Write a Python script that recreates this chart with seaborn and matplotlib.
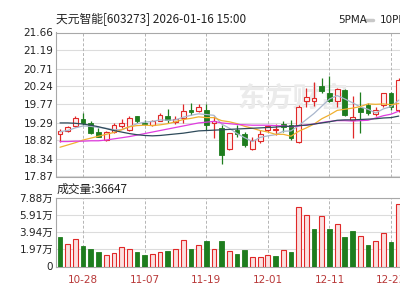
import numpy as np
import pandas as pd
import matplotlib
matplotlib.use("Agg")
import matplotlib.pyplot as plt
import seaborn as sns

# ---------------- data ----------------
title_text = "天元智能[603273] 2026-01-16 15:00"
vol_text = "成交量:36647"
date_labels = ["10-28", "11-07", "11-19", "12-01", "12-11", "12-23"]
date_idx = [3, 11, 19, 27, 35, 43]

price_ticks = [17.87, 18.34, 18.82, 19.29, 19.77, 20.24, 20.71, 21.19, 21.66]
vol_ticks = [0, 19700, 39400, 59100, 78800]
vol_tick_labels = ["0", "1.97万", "3.94万", "5.91万", "7.88万"]

opens = [18.99, 19.07, 19.19, 19.38, 19.29, 19.03, 18.83, 19.03, 19.20, 19.10,
         19.45, 19.29, 19.23, 19.34, 19.45, 19.30, 19.41, 19.63, 19.60, 19.63,
         19.28, 19.14, 18.59, 19.10, 18.99, 18.59, 18.81, 19.10, 19.10, 19.26,
         19.23, 18.79, 19.87, 19.85, 20.24, 20.07, 19.85, 20.155, 19.37, 19.67,
         19.76, 19.52, 19.76, 20.07, 19.63]
highs = [19.11, 19.21, 19.45, 19.54, 19.32, 19.14, 19.07, 19.28, 19.38, 19.45,
         19.47, 19.36, 19.36, 19.54, 19.645, 19.45, 19.785, 19.80, 19.785, 19.785,
         19.45, 19.23, 19.02, 19.23, 19.05, 18.92, 19.10, 19.23, 19.26, 19.32,
         19.36, 19.76, 20.20, 20.35, 20.46, 20.51, 20.20, 20.18, 19.98, 20.10,
         19.80, 19.71, 20.08, 20.10, 20.47]
lows = [18.79, 19.05, 19.17, 19.23, 18.99, 18.90, 18.81, 19.01, 19.14, 19.07,
        19.28, 19.23, 19.20, 19.32, 19.29, 19.26, 19.28, 19.49, 19.58, 19.10,
        18.88, 18.20, 18.57, 18.92, 18.64, 18.57, 18.75, 19.05, 18.97, 19.05,
        18.83, 18.75, 19.71, 19.73, 20.07, 19.82, 19.71, 19.45, 18.88, 19.01,
        19.49, 19.45, 19.71, 19.63, 19.57]
closes = [19.08, 19.16, 19.41, 19.29, 19.01, 18.92, 19.05, 19.22, 19.28, 19.41,
          19.34, 19.26, 19.32, 19.48, 19.36, 19.38, 19.60, 19.56, 19.71, 19.23,
          19.32, 18.44, 19.01, 18.99, 18.70, 18.83, 18.99, 19.20, 19.12, 19.16,
          18.88, 19.71, 19.96, 19.935, 20.11, 19.85, 20.16, 19.49, 19.43, 19.58,
          19.55, 19.63, 20.07, 19.71, 20.42]
prev_close0 = 19.15
volumes = [34500, 25700, 31900, 24100, 20300, 17200, 13300, 15600, 22200, 20300,
           17200, 13300, 14800, 17200, 18300, 20300, 30700, 20300, 24900, 29900,
           20300, 29900, 18000, 14500, 19100, 11000, 11000, 13300, 12200, 19100,
           17200, 68600, 59700, 42700, 57700, 43500, 48900, 34200, 41100, 35300,
           24900, 29600, 38500, 28700, 72400]

ma5 = [19.05, 19.08, 19.15, 19.20, 19.19, 19.16, 19.14, 19.10, 19.10, 19.18,
       19.26, 19.30, 19.32, 19.36, 19.35, 19.36, 19.43, 19.48, 19.52, 19.50,
       19.48, 19.25, 19.14, 19.00, 18.89, 18.79, 18.90, 18.94, 18.97, 19.06,
       19.07, 19.21, 19.37, 19.53, 19.72, 19.91, 20.00, 19.91, 19.81, 19.70,
       19.64, 19.54, 19.65, 19.71, 19.88]
ma10 = [18.64, 18.70, 18.76, 18.83, 18.88, 18.93, 18.98, 19.03, 19.10, 19.18,
        19.21, 19.22, 19.21, 19.23, 19.26, 19.31, 19.37, 19.40, 19.44, 19.42,
        19.42, 19.34, 19.31, 19.26, 19.19, 19.14, 19.08, 19.04, 18.98, 18.98,
        18.93, 19.06, 19.15, 19.25, 19.39, 19.49, 19.61, 19.64, 19.67, 19.71,
        19.78, 19.77, 19.78, 19.76, 19.79]
ma20 = [18.79, 18.79, 18.80, 18.80, 18.81, 18.81, 18.83, 18.86, 18.89, 18.92,
        18.96, 19.00, 19.04, 19.08, 19.12, 19.16, 19.20, 19.24, 19.28, 19.30,
        19.32, 19.28, 19.26, 19.24, 19.23, 19.22, 19.22, 19.22, 19.21, 19.20,
        19.18, 19.20, 19.23, 19.25, 19.29, 19.32, 19.34, 19.34, 19.33, 19.34,
        19.35, 19.41, 19.47, 19.51, 19.59]
ma30 = [19.28, 19.28, 19.27, 19.25, 19.22, 19.18, 19.13, 19.08, 19.04, 19.00,
        18.97, 18.95, 18.94, 18.95, 18.97, 18.99, 19.01, 19.04, 19.07, 19.08,
        19.09, 19.10, 19.11, 19.12, 19.13, 19.14, 19.15, 19.16, 19.17, 19.19,
        19.19, 19.21, 19.22, 19.25, 19.28, 19.31, 19.35, 19.36, 19.36, 19.37,
        19.38, 19.39, 19.41, 19.42, 19.46]

# ---------------- style ----------------
sns.set_theme(style="white")
plt.rcParams['font.family'] = ['DejaVu Sans', 'Noto Sans CJK SC']
CJK = ['Noto Sans CJK SC', 'DejaVu Sans']

RED = '#e02828'
RED_FILL = '#fff0f0'
RED_VFILL = '#fbe0e0'
GREEN = '#1e7d1e'
GRID = '#dcdcdc'
VGRID = '#b4b4b4'
FRAME = '#a8a8a8'

df = pd.DataFrame({"i": np.arange(len(closes)), "open": opens, "high": highs,
                   "low": lows, "close": closes, "vol": volumes,
                   "ma5": ma5, "ma10": ma10, "ma20": ma20, "ma30": ma30})
df["prev"] = df["close"].shift(1).fillna(prev_close0)

W, H = 400, 300
fig = plt.figure(figsize=(4, 3), dpi=100)
fig.patch.set_facecolor('white')
left = 56 / W
ax = fig.add_axes([left, 1 - 176.5 / H, 1 - left, (176.5 - 32.5) / H])
axv = fig.add_axes([left, 1 - 266.5 / H, 1 - left, (266.5 - 198) / H])

xlim = (-0.52, 44.16)
for a in (ax, axv):
    a.set_xlim(*xlim)
    a.set_facecolor('white')
    for s in ('left', 'top', 'bottom'):
        a.spines[s].set_color(FRAME)
        a.spines[s].set_linewidth(0.8)
    a.spines['right'].set_visible(False)
    a.tick_params(axis='both', length=0, pad=2, labelsize=7.5, colors='#222222')
    a.set_xlabel('')
    a.set_ylabel('')

# ---------------- price panel ----------------
ax.set_ylim(price_ticks[0], price_ticks[-1])
ax.set_yticks(price_ticks)
ax.set_yticklabels([f"{t:.2f}" for t in price_ticks])
for t in price_ticks:
    ax.axhline(t, color=GRID, lw=0.8, zorder=0)
ax.set_xticks([])
for d in date_idx:
    ax.axvline(d, color=VGRID, lw=0.7, ls=(0, (3, 2)), zorder=0)

ax.text(23.0, 19.92, "东方财富", fontsize=20, color='#ebebeb', va='center',
        ha='left', family=CJK, zorder=0.5, fontweight='bold', style='italic')

up = df["close"] >= df["open"]
w = 0.62
# wicks
for _, r in df.iterrows():
    col = RED if r["close"] >= r["open"] else GREEN
    ax.vlines(r["i"], r["low"], r["high"], color=col, lw=0.9, zorder=2)
body_h = (df["close"] - df["open"]).abs().clip(lower=0.012)
body_b = df[["open", "close"]].min(axis=1)
ax.bar(df.loc[up, "i"], body_h[up], bottom=body_b[up], width=w,
       facecolor=RED_FILL, edgecolor=RED, linewidth=0.8, zorder=3)
ax.bar(df.loc[~up, "i"], body_h[~up], bottom=body_b[~up], width=w,
       facecolor=GREEN, edgecolor=GREEN, linewidth=0.6, zorder=3)

ma_colors = {"ma5": '#a9b6cc', "ma10": '#f0b030', "ma20": '#e03ce0', "ma30": '#2e4a5a'}
for k, c in ma_colors.items():
    sns.lineplot(data=df, x="i", y=k, ax=ax, color=c, lw=0.9, zorder=4)
ax.set_xlabel('')
ax.set_ylabel('')
ax.set_xlim(*xlim)

# ---------------- volume panel ----------------
axv.set_ylim(0, vol_ticks[-1])
axv.set_yticks(vol_ticks)
axv.set_yticklabels(vol_tick_labels)
for t in vol_ticks:
    axv.axhline(t, color=GRID, lw=0.8, zorder=0)
for d in date_idx:
    axv.axvline(d, color=VGRID, lw=0.7, ls=(0, (3, 2)), zorder=0)
vup = df["close"] >= df["prev"]
axv.bar(df.loc[vup, "i"], df.loc[vup, "vol"], width=w, facecolor=RED_VFILL,
        edgecolor=RED, linewidth=0.8, zorder=3)
axv.bar(df.loc[~vup, "i"], df.loc[~vup, "vol"], width=w, facecolor=GREEN,
        edgecolor=GREEN, linewidth=0.6, zorder=3)
axv.set_xticks(date_idx)
axv.set_xticklabels(date_labels)
axv.tick_params(axis='x', pad=6, colors='#b83838', labelsize=7.5)
axv.set_xlim(*xlim)

# ---------------- texts ----------------
fig.text(56 / W, 1 - 20 / H, title_text, fontsize=8.5, va='center', ha='left',
         family=CJK, color='#222222')
fig.text(338 / W, 1 - 20 / H, "5PMA", fontsize=7.5, va='center', ha='left',
         color='#222222')
fig.add_artist(plt.Line2D([365 / W, 373 / W], [1 - 20 / H, 1 - 20 / H],
                          color='#c8c8c8', lw=2.5))
fig.text(380 / W, 1 - 20 / H, "10PMA", fontsize=7.5, va='center', ha='left',
         color='#222222')
fig.text(57 / W, 1 - 189 / H, vol_text, fontsize=8.5, va='center', ha='left',
         family=CJK, color='#222222')

fig.savefig("out.png", dpi=100, facecolor='white')
